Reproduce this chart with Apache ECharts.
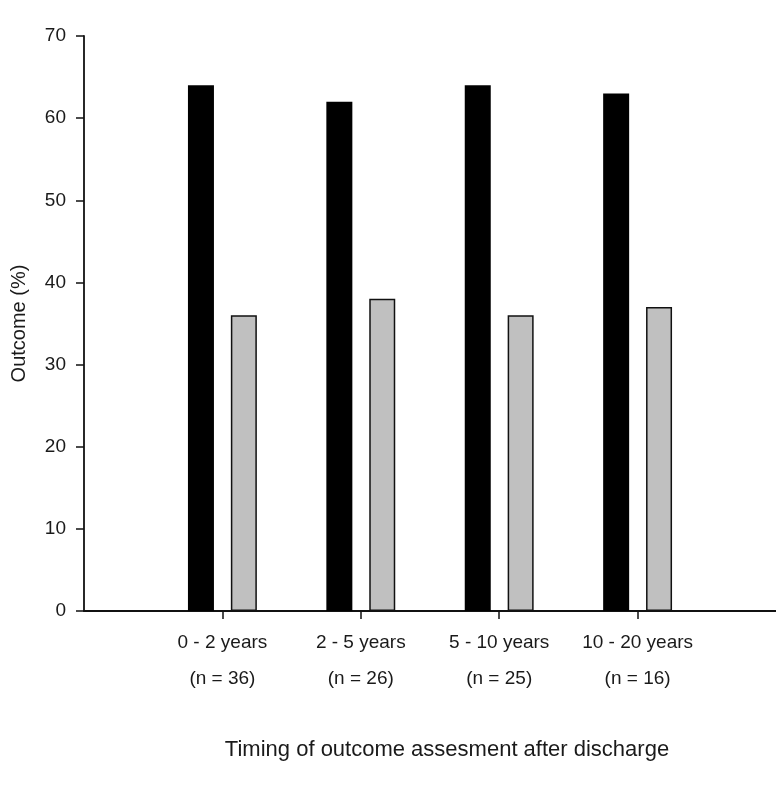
<!DOCTYPE html>
<html>
<head>
<meta charset="utf-8">
<script src="https://cdn.jsdelivr.net/npm/echarts@6/dist/echarts.min.js"></script>
<style>html,body{margin:0;padding:0;background:#fff;}#c{width:776px;height:799px;}</style>
</head>
<body>
<div id="c"></div>
<script>
const categories = ['', '0 - 2 years\n(n = 36)', '2 - 5 years\n(n = 26)', '5 - 10 years\n(n = 25)', '10 - 20 years\n(n = 16)', ''];
const blackValues = [null, 64, 62, 64, 63, null];
const grayValues = [null, 36, 38, 36, 37, null];
const yTicks = [0, 10, 20, 30, 40, 50, 60, 70];

const chart = echarts.init(document.getElementById('c'), null, {renderer: 'canvas'});
const font = 'Liberation Sans, Arial, sans-serif';
chart.setOption({
  animation: false,
  backgroundColor: '#fff',
  grid: {left: 84, right: 0, top: 36, bottom: 188, containLabel: false, outerBoundsMode: 'none'},
  xAxis: {
    type: 'category',
    data: categories,
    boundaryGap: false,
    name: 'Timing of outcome assesment after discharge',
    nameLocation: 'middle',
    nameGap: 128,
    nameTextStyle: {fontFamily: font, fontSize: 22, color: '#1a1a1a', padding: [0, 0, 0, 34]},
    axisLine: {lineStyle: {color: '#111', width: 1.8}},
    axisTick: {show: true, length: 8, lineStyle: {color: '#111', width: 1.5},
      interval: function (i) { return i > 0 && i < categories.length - 1; }},
    axisLabel: {fontFamily: font, fontSize: 19, color: '#1a1a1a', lineHeight: 36, margin: 14, interval: 0},
    splitLine: {show: false}
  },
  yAxis: {
    type: 'value',
    min: yTicks[0],
    max: yTicks[yTicks.length - 1],
    interval: 10,
    name: 'Outcome (%)',
    nameLocation: 'middle',
    nameGap: 55,
    nameRotate: 90,
    nameTextStyle: {fontFamily: font, fontSize: 20, color: '#1a1a1a'},
    axisLine: {show: true, lineStyle: {color: '#111', width: 1.8}},
    axisTick: {show: true, length: 8, lineStyle: {color: '#111', width: 1.5}},
    axisLabel: {fontFamily: font, fontSize: 19, color: '#1a1a1a', margin: 18},
    splitLine: {show: false}
  },
  series: [
    {type: 'bar', data: blackValues, barWidth: 26, barGap: '65%',
      itemStyle: {color: '#000', borderColor: '#000', borderWidth: 0}},
    {type: 'bar', data: grayValues, barWidth: 26,
      itemStyle: {color: '#c0c0c0', borderColor: '#111', borderWidth: 1.5}}
  ]
});
</script>
</body>
</html>
